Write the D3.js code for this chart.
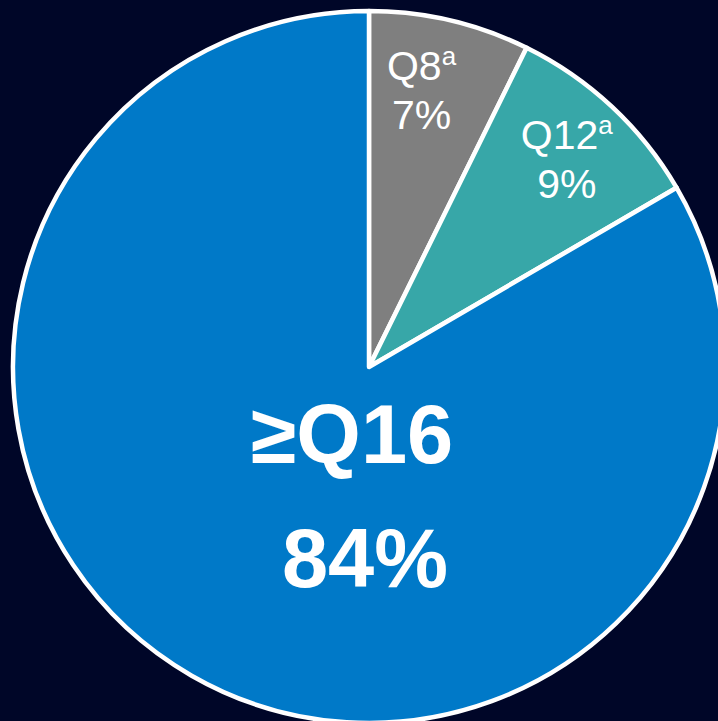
<!DOCTYPE html>
<html>
<head>
<meta charset="utf-8">
<script src="https://cdn.jsdelivr.net/npm/d3@7"></script>
<style>
html,body{margin:0;padding:0;background:#000628;}
svg{display:block;}
</style>
</head>
<body>
<script>
const categories = ["Q8", "Q12", "≥Q16"];
const superscripts = ["a", "a", ""];
const values = [7.3, 9.3, 83.4];
const pctLabels = ["7%", "9%", "84%"];
const colors = ["#7f7f7f", "#37a7a8", "#0079c8"];

const W = 718, H = 721;
const cx = 369, cy = 367, R = 356;
const labelDx = [-12, 4, 0];

const svg = d3.select("body").append("svg").attr("width", W).attr("height", H);
svg.append("rect").attr("width", W).attr("height", H).attr("fill", "#000628");

const data = categories.map((c, i) => ({cat: c, sup: superscripts[i], value: values[i], pct: pctLabels[i], color: colors[i], dx: labelDx[i]}));
const pie = d3.pie().value(d => d.value).sort(null);
const arcs = pie(data);
const arc = d3.arc().innerRadius(0).outerRadius(R);
const labelArc = d3.arc().innerRadius(284).outerRadius(284);

const g = svg.append("g").attr("transform", `translate(${cx},${cy})`);
g.selectAll("path").data(arcs).join("path")
  .attr("d", arc)
  .attr("fill", d => d.data.color)
  .attr("stroke", "#ffffff")
  .attr("stroke-width", 4.5)
  .attr("stroke-linejoin", "round");

const font = "Liberation Sans, Arial, sans-serif";
arcs.forEach((a, i) => {
  if (i < 2) {
    const [x0, y] = labelArc.centroid(a);
    const x = x0 + a.data.dx;
    const t = g.append("text")
      .attr("x", x).attr("y", y - 10)
      .attr("text-anchor", "middle")
      .attr("fill", "#ffffff")
      .attr("font-family", font)
      .attr("font-size", 41);
    t.append("tspan").text(a.data.cat);
    t.append("tspan").attr("font-size", 26).attr("dy", -15).text(a.data.sup);
    g.append("text")
      .attr("x", x).attr("y", y + 39)
      .attr("text-anchor", "middle")
      .attr("fill", "#ffffff")
      .attr("font-family", font)
      .attr("font-size", 41)
      .text(a.data.pct);
  } else {
    g.append("text")
      .attr("x", -17).attr("y", 96)
      .attr("text-anchor", "middle")
      .attr("fill", "#ffffff")
      .attr("font-family", font)
      .attr("font-weight", "bold")
      .attr("font-size", 83)
      .text(a.data.cat);
    g.append("text")
      .attr("x", -4).attr("y", 220)
      .attr("text-anchor", "middle")
      .attr("fill", "#ffffff")
      .attr("font-family", font)
      .attr("font-weight", "bold")
      .attr("font-size", 83)
      .text(a.data.pct);
  }
});
</script>
</body>
</html>
